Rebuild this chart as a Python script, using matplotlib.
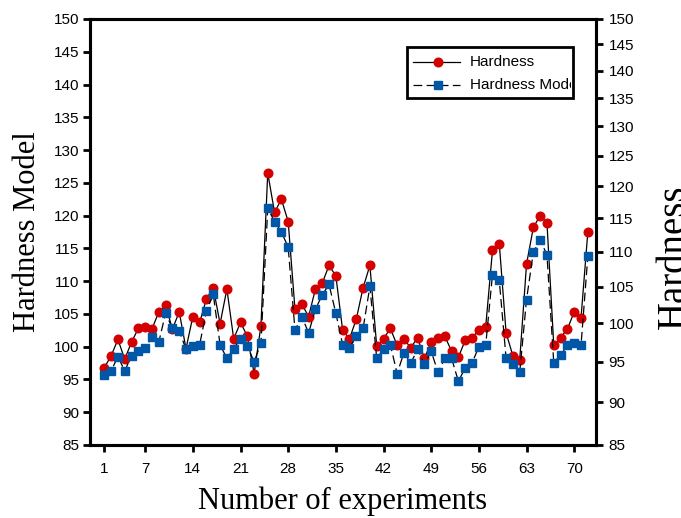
import numpy as np
import matplotlib
matplotlib.use('Agg')
import matplotlib.pyplot as plt
from matplotlib.patches import Rectangle
from matplotlib.lines import Line2D
from matplotlib.transforms import Bbox, TransformedBbox

# data
experiments = np.arange(1, 73)
hardness = [96.8, 98.6, 101.1, 98.1, 100.7, 102.8, 103.0, 102.7, 105.3, 106.3,
            102.7, 105.3, 99.7, 104.6, 103.7, 107.3, 109.0, 103.5, 108.8, 101.2,
            103.7, 101.6, 95.9, 103.2, 126.5, 120.5, 122.5, 119.1, 105.7, 106.5,
            104.6, 108.8, 109.7, 112.4, 110.8, 102.5, 101.2, 104.2, 109.0, 112.4,
            100.1, 101.2, 102.8, 100.2, 101.2, 99.8, 101.4, 98.2, 100.7, 101.4,
            101.6, 99.3, 98.4, 101.0, 101.4, 102.5, 103.0, 114.7, 115.7, 102.1,
            98.6, 98.0, 112.6, 118.2, 120.0, 118.9, 100.2, 101.4, 102.7, 105.3,
            104.4, 117.5]
hardness_model = [95.7, 96.3, 98.5, 96.3, 98.6, 99.3, 99.8, 101.5, 100.7, 105.1,
                  102.8, 102.4, 99.6, 100.1, 100.3, 105.5, 108.0, 100.3, 98.2, 99.7,
                  101.2, 100.1, 97.7, 100.5, 121.1, 119.1, 117.5, 115.2, 102.5, 104.6,
                  102.1, 105.7, 107.9, 109.5, 105.1, 100.3, 99.8, 101.6, 102.8, 109.2,
                  98.2, 99.6, 100.3, 95.9, 99.1, 97.5, 99.6, 97.3, 99.3, 96.1,
                  98.2, 98.2, 94.7, 96.8, 97.5, 100.0, 100.2, 111.0, 110.1, 98.2,
                  97.3, 96.1, 107.2, 114.4, 116.3, 114.0, 97.5, 98.8, 100.2, 100.6,
                  100.2, 113.8]
x_ticks = [1, 7, 14, 21, 28, 35, 42, 49, 56, 63, 70]
y_ticks = list(range(85, 151, 5))

red = '#D40000'
blue = '#0057A8'
dash = (0, (7, 3.5))

plt.rcParams['font.family'] = ['Liberation Sans', 'DejaVu Sans']

fig = plt.figure(figsize=(6.81, 5.18), dpi=100)
ax = fig.add_axes([90/681, 73/518, 506/681, 426/518])

ax.plot(experiments, hardness, color='black', lw=0.9, marker='o', ms=6.2,
        mfc=red, mec=red, zorder=3)
ax.plot(experiments, hardness_model, color='black', lw=0.9, ls=dash, marker='s',
        ms=5.6, mfc=blue, mec=blue, zorder=4)

ax.set_xlim(-1.1, 73.2)
ax.set_ylim(85, 150)
ax.set_xticks(x_ticks)
ax.set_yticks(y_ticks)
ax.tick_params(labelsize=11, width=2, length=5, direction='out', pad=3)
ax.tick_params(axis='x', pad=7)
for s in ax.spines.values():
    s.set_linewidth(2.2)

ax.set_xlabel('Number of experiments', family='Liberation Serif', fontsize=22, labelpad=8)
ax.set_ylabel('Hardness Model', family='Liberation Serif', fontsize=22, labelpad=8)

# right axis is log scaled over the same range
ax2 = ax.twinx()
ax2.set_yscale('log')
ax2.set_ylim(85, 150)
ax2.set_yticks(y_ticks)
ax2.set_yticklabels([str(v) for v in y_ticks])
ax2.yaxis.set_minor_locator(plt.NullLocator())
ax2.tick_params(labelsize=11, width=2, length=5, direction='out', pad=4)
for s in ax2.spines.values():
    s.set_linewidth(2.2)
# right title sits at the figure edge, bigger than the left one
fig.text(656/681, 1 - 257/518, 'Hardness', rotation=90, ha='left', va='center',
         family='Liberation Serif', fontsize=28)

# legend box, text overflows and is clipped like the original
bx, by, bw, bh = 0.626, 0.814, 0.328, 0.121
box = Rectangle((bx, by), bw, bh, transform=ax.transAxes,
                facecolor='white', edgecolor='black', lw=2, zorder=10)
ax.add_patch(box)
ax.add_line(Line2D([0.638, 0.731], [0.900, 0.900], transform=ax.transAxes,
                   color='black', lw=0.9, zorder=11))
ax.add_line(Line2D([0.687], [0.900], transform=ax.transAxes, marker='o', ms=6.2,
                   mfc=red, mec=red, ls='none', zorder=12))
ax.add_line(Line2D([0.638, 0.731], [0.845, 0.845], transform=ax.transAxes,
                   color='black', lw=0.9, ls=dash, zorder=11))
ax.add_line(Line2D([0.687], [0.845], transform=ax.transAxes, marker='s', ms=5.6,
                   mfc=blue, mec=blue, ls='none', zorder=12))
clip = TransformedBbox(Bbox([[bx, by], [bx + bw - 0.004, by + bh]]), ax.transAxes)
for yy, lab in [(0.900, 'Hardness'), (0.845, 'Hardness Model')]:
    t = ax.text(0.750, yy, lab, transform=ax.transAxes, fontsize=11,
                va='center', ha='left', zorder=12, clip_on=True)
    t.set_clip_box(clip)

fig.savefig('out.png', dpi=100)
